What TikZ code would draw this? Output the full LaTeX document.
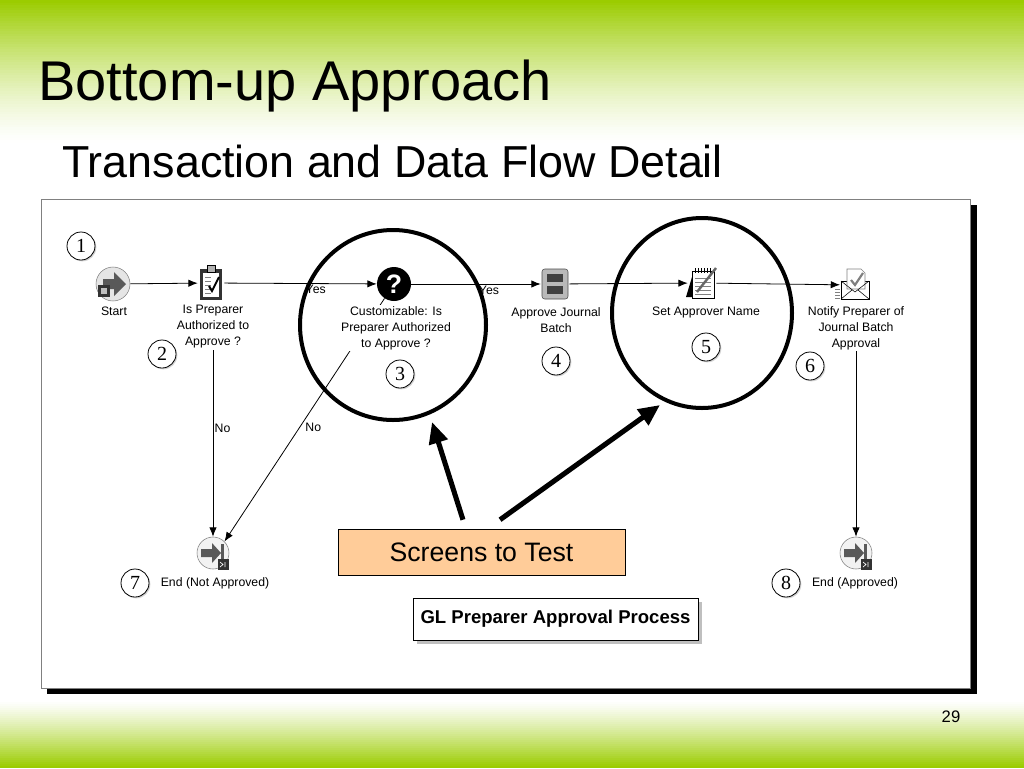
\documentclass[tikz,border=0pt]{standalone}
\usepackage{fontspec}
\setmainfont{Liberation Sans}
\newfontfamily\numfont{Liberation Serif}
\usepackage{tikz}
\usetikzlibrary{arrows.meta,shadows}

\definecolor{slidegreen}{RGB}{155,204,0}
\definecolor{peach}{RGB}{255,204,153}

\tikzset{
  lbl/.style={align=center, inner sep=1pt, font=\fontsize{9.2}{12}\selectfont},
  num/.style={circle, draw, fill=white, line width=0.6pt, minimum size=21pt, inner sep=0pt,
    font=\numfont\fontsize{15}{15}\selectfont,
    drop shadow={shadow xshift=1pt, shadow yshift=-1pt, fill=gray!70}},
  flow/.style={-{Latex[length=7pt,width=5.5pt]}, line width=0.6pt},
  ring/.style={draw, line width=3pt},
  bigarrow/.style={line width=3.8pt, -{Triangle[length=16pt,width=14pt]}},
  pics/starticon/.style={code={
    \node[circle, draw=gray, fill=gray!20, minimum size=25.5pt, inner sep=0pt] (-c) {};
    \fill[black!65] (-10,-5) -- (1,-5) -- (1,-12) -- (13,0) -- (1,12) -- (1,5) -- (-10,5) -- cycle;
    \fill[black!80] (-15,1) rectangle (-3,13);
    \fill[gray!50] (-12,4) rectangle (-6,10);
  }},
  pics/endicon/.style={code={
    \node[circle, draw=gray, fill=gray!10, minimum size=24pt, inner sep=0pt] (-c) {};
    \fill[black!65] (-12,-4) -- (-1,-4) -- (-1,-10) -- (8,0) -- (-1,10) -- (-1,4) -- (-12,4) -- cycle;
    \fill[black!65] (8,-9) rectangle (11,9);
    \fill[black!80] (5,6) rectangle (16,17);
    \draw[white, line width=0.5pt] (7,9) -- (10,11.5) -- (7,14) (12,9) -- (12,14);
  }},
  pics/clipicon/.style={code={
    \node[minimum width=19.5pt, minimum height=25.5pt, inner sep=0pt] (-c) {};
    \fill[black!80] (-11,-14) rectangle (11,17);
    \fill[white] (-8,-10) rectangle (8,14);
    \draw[fill=gray!60] (-4,-18) rectangle (4,-11);
    \foreach \yy in {-6,-2,2,6,10} \draw[gray] (-6,\yy) -- (0,\yy);
    \draw[line width=1.5pt] (-2,3) -- (1,8) -- (8,-6);
  }},
  pics/questicon/.style={code={
    \node[circle, fill=black, minimum size=25.5pt, inner sep=0pt, text=white,
      font=\bfseries\fontsize{20}{20}\selectfont] (-c) {?};
  }},
  pics/batchicon/.style={code={
    \node[minimum width=21pt, minimum height=24pt, inner sep=0pt] (-c) {};
    \fill[gray!55, draw=black!70, rounded corners=2pt] (-13,-15) rectangle (13,15);
    \fill[black!75] (-8,-10) rectangle (8,-2);
    \fill[black!75] (-8,2) rectangle (8,10);
  }},
  pics/noteicon/.style={code={
    \node[minimum width=21pt, minimum height=24pt, inner sep=0pt] (-c) {};
    \fill[black] (-16,14) -- (-10,-6) -- (-10,14) -- cycle;
    \draw[fill=white] (-10,-12) rectangle (12,15);
    \foreach \xx in {-7,-4,...,9} \draw (\xx,-15) -- (\xx,-10);
    \foreach \yy in {-5,-1,...,11} \draw[gray] (-7,\yy) -- (9,\yy);
    \draw[black!60, line width=1.8pt] (-5,9) -- (14,-15);
  }},
  pics/mailicon/.style={code={
    \node[minimum width=22pt, minimum height=22pt, inner sep=0pt] (-c) {};
    \foreach \yy in {4,7,10,13} \draw[gray] (-20,\yy) -- (-15,\yy);
    \draw[fill=white] (-14,-4) rectangle (14,14);
    \draw[fill=white, draw=gray] (-8,-16) -- (6,-16) -- (10,-12) -- (10,4) -- (-8,4) -- cycle;
    \draw[gray, line width=1.6pt] (-4,-5) -- (0,0) -- (8,-12);
    \draw (-14,-4) -- (0,7) -- (14,-4);
    \draw (-14,14) -- (-3,5) (14,14) -- (3,5);
  }}
}

\begin{document}
\begin{tikzpicture}[x=0.75pt, y=-0.75pt]
\useasboundingbox (0,0) rectangle (1024,768);
% slide background
\fill[white] (0,0) rectangle (1024,768);
\foreach \i in {0,...,54} {
  \pgfmathsetmacro\c{100*(1-\i/55)^1.4}
  \fill[slidegreen!\c!white] (0,2.6*\i) rectangle (1024,2.6*\i+2.8);
}
\foreach \i in {0,...,33} {
  \pgfmathsetmacro\c{100*(\i/33)^1.2}
  \fill[slidegreen!\c!white] (0,700+2*\i) rectangle (1024,702.2+2*\i);
}

\node[anchor=base west, inner sep=0pt, font=\fontsize{42}{42}\selectfont] (title) at (38,100) {Bottom-up Approach};
\node[anchor=base west, inner sep=0pt, font=\fontsize{33.6}{34}\selectfont] (subtitle) at (62,177) {Transaction and Data Flow Detail};

% screenshot panel
\fill[black] (47,205) rectangle (977,694);
\draw[gray, fill=white] (41,199) rectangle (970,688);

% process icons
\pic (start) at (113,284) {starticon};
\pic (auth) at (211,283) {clipicon};
\pic (cust) at (394,284) {questicon};
\pic (batch) at (555,284) {batchicon};
\pic (setname) at (702,283) {noteicon};
\pic (notify) at (855,285) {mailicon};
\pic (endno) at (213,553) {endicon};
\pic (endok) at (856,553) {endicon};

\node[lbl] (lauth) at (213,327) {Is Preparer\\Authorized to\\Approve ?};
\node[lbl] (lnotify) at (856,328) {Notify Preparer of\\Journal Batch\\Approval};

% transitions
\draw[flow] (start-c) -- (auth-c);
\draw[flow] (auth-c) -- node[lbl, below, pos=.6] {Yes} (cust-c);
\draw[flow] (cust-c) -- node[lbl, below, pos=.6] {Yes} (batch-c);
\draw[flow] (batch-c) -- (setname-c);
\draw[flow] (setname-c) -- (notify-c);
\draw[flow] (lauth) -- node[lbl, right, pos=.42] {No} (endno-c);
\draw[flow] (cust-c) -- node[lbl, right, pos=.53, xshift=3pt] {No} (endno-c.45);
\draw[flow] (lnotify) -- (endok-c);

% labels
\node[lbl] (lstart) at (114,311) {Start};
\node[lbl, fill=white] (lcust) at (396,328) {Customizable: Is\\Preparer Authorized\\to Approve ?};
\node[lbl] (lbatch) at (556,320) {Approve Journal\\Batch};
\node[lbl] (lsetname) at (706,312) {Set Approver Name};
\node[lbl] (lendno) at (215,583) {End (Not Approved)};
\node[lbl] (lendok) at (855,583) {End (Approved)};

% step numbers
\node[num] (n1) at (81,246) {1};
\node[num] (n2) at (162,354) {2};
\node[num] (n3) at (400,374) {3};
\node[num] (n4) at (556,361) {4};
\node[num] (n5) at (706,347) {5};
\node[num] (n6) at (810,366) {6};
\node[num] (n7) at (135,583) {7};
\node[num] (n8) at (786,583) {8};

% highlights
\draw[ring] (393,325) ellipse [x radius=93, y radius=95];
\draw[ring] (702,313) ellipse [x radius=90, y radius=95];

\node[draw, fill=peach, minimum width=215.25pt, minimum height=34.5pt, font=\fontsize{20}{20}\selectfont] (screens) at (481.5,552) {Screens to Test};
\coordinate (tip3) at (432,422);
\coordinate (tip5) at (660,405);
\draw[bigarrow] ([xshift=-13.9pt, yshift=6.75pt]screens.north) -- (tip3);
\draw[bigarrow] ([xshift=13.9pt, yshift=6.75pt]screens.north) -- (tip5);

\node[draw, fill=white, minimum width=213.75pt, minimum height=31.5pt, font=\bfseries\fontsize{13.9}{14}\selectfont,
  drop shadow={shadow xshift=3pt, shadow yshift=-3pt, fill=gray}] (glbox) at (555.5,619) {GL Preparer Approval Process};

\node[font=\fontsize{12.5}{13}\selectfont] (page) at (951,717) {29};
\end{tikzpicture}
\end{document}
